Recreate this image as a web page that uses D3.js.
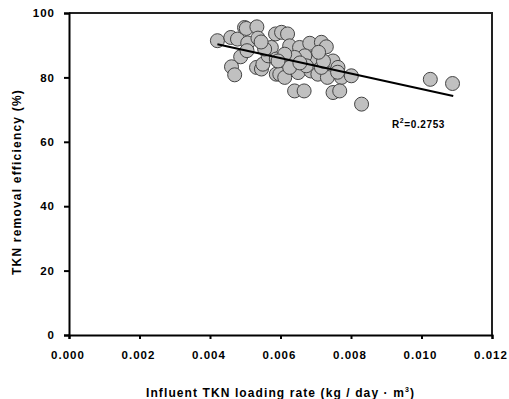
<!DOCTYPE html>
<html>
<head>
<meta charset="utf-8">
<script src="https://cdn.jsdelivr.net/npm/d3@7"></script>
<style>
  body { margin: 0; background: #fff; }
  svg text { font-family: "Liberation Sans", Arial, sans-serif; font-weight: bold; fill: #000; }
</style>
</head>
<body>
<svg id="chart" width="509" height="399"></svg>
<script>
'use strict';

// influent TKN loading rate (kg/day·m3)
var loadRate = [
  0.00421, 0.00459, 0.00478, 0.00498, 0.00503, 0.00533, 0.00507, 0.00536, 0.00487, 0.00505,
  0.00461, 0.00470, 0.00532, 0.00546, 0.00550, 0.00565, 0.00574, 0.00586, 0.00588, 0.00588,
  0.00603, 0.00620, 0.00626, 0.00654, 0.00683, 0.00716, 0.00730, 0.00697, 0.00669, 0.00640,
  0.00612, 0.00598, 0.00612, 0.00650, 0.00686, 0.00706, 0.00733, 0.00749, 0.00763, 0.00773,
  0.00640, 0.00667, 0.00749, 0.00768, 0.00626, 0.00673, 0.00716, 0.00593, 0.00801, 0.00830,
  0.01025, 0.01088, 0.00762, 0.00555, 0.00722, 0.00655, 0.00545, 0.00708
];
// TKN removal efficiency (%)
var removalEff = [
  91.4, 92.4, 91.9, 95.5, 95.2, 95.7, 90.7, 92.2, 86.4, 88.3,
  83.3, 80.8, 83.1, 82.6, 84.1, 86.7, 89.3, 93.5, 85.7, 81.0,
  94.0, 93.5, 89.8, 89.3, 90.6, 90.9, 89.5, 86.2, 86.7, 86.2,
  87.2, 81.0, 80.0, 81.5, 82.0, 81.0, 80.0, 85.1, 83.1, 80.0,
  75.8, 75.8, 75.3, 75.8, 83.1, 83.6, 83.1, 85.1, 80.5, 71.7,
  79.4, 78.1, 81.6, 88.8, 85.0, 84.5, 91.0, 87.8
];

// fitted line
var fitX = [0.00421, 0.01090];
var fitY = [90.3, 74.2];

var xTicks = [0, 0.002, 0.004, 0.006, 0.008, 0.010, 0.012];
var yTicks = [0, 20, 40, 60, 80, 100];

var svg = d3.select('#chart');
var mLeft = 69, mRight = 492, mTop = 13, mBottom = 335;

var x = d3.scaleLinear().domain([0, 0.012]).range([mLeft, mRight]);
var y = d3.scaleLinear().domain([0, 100]).range([mBottom, mTop]);

// frame (top and right)
svg.append('path')
  .attr('d', 'M' + mLeft + ',' + mTop + 'H' + mRight + 'V' + mBottom)
  .attr('fill', 'none').attr('stroke', '#222').attr('stroke-width', 2);

var xAxis = svg.append('g')
  .attr('transform', 'translate(0,' + mBottom + ')')
  .call(d3.axisBottom(x).tickValues(xTicks).tickFormat(d3.format('.3f')).tickSize(4).tickPadding(12));

var yAxis = svg.append('g')
  .attr('transform', 'translate(' + mLeft + ',0)')
  .call(d3.axisLeft(y).tickValues(yTicks).tickSize(5).tickPadding(9));

[xAxis, yAxis].forEach(function (g) {
  g.select('.domain').attr('stroke', '#000').attr('stroke-width', 2);
  g.selectAll('.tick line').attr('stroke', '#000').attr('stroke-width', 2);
  g.selectAll('.tick text')
    .attr('fill', '#000')
    .style('font-size', '11.5px')
    .style('font-weight', 'bold')
    .style('letter-spacing', '1px')
    .style('font-family', '"Liberation Sans", Arial, sans-serif');
});
xAxis.selectAll('.tick text').attr('dx', '-1.5px');

var pts = loadRate.map(function (v, i) { return { x: v, y: removalEff[i] }; });

svg.append('g').selectAll('circle').data(pts).enter().append('circle')
  .attr('cx', function (d) { return x(d.x); })
  .attr('cy', function (d) { return y(d.y); })
  .attr('r', 7)
  .attr('fill', '#c0c0c0')
  .attr('stroke', '#444')
  .attr('stroke-width', 1);

svg.append('line')
  .attr('x1', x(fitX[0])).attr('y1', y(fitY[0]))
  .attr('x2', x(fitX[1])).attr('y2', y(fitY[1]))
  .attr('stroke', '#000').attr('stroke-width', 2);

var r2 = svg.append('text')
  .attr('x', 392).attr('y', 128)
  .style('font-size', '10px').style('letter-spacing', '0.6px');
r2.append('tspan').text('R');
r2.append('tspan').attr('dy', -5).style('font-size', '7px').text('2');
r2.append('tspan').attr('dy', 5).text('=0.2753');

svg.append('text')
  .attr('transform', 'translate(21,' + ((mTop + mBottom) / 2 + 8) + ') rotate(-90)')
  .attr('text-anchor', 'middle')
  .style('font-size', '12px').style('letter-spacing', '1.2px')
  .text('TKN removal efficiency (%)');

var xl = svg.append('text')
  .attr('x', (mLeft + mRight) / 2).attr('y', 397)
  .attr('text-anchor', 'middle')
  .style('font-size', '12px').style('letter-spacing', '1.1px');
xl.append('tspan').text('Influent TKN loading rate (kg / day  \u00b7  m');
xl.append('tspan').attr('dy', -5).style('font-size', '7px').text('3');
xl.append('tspan').attr('dy', 5).text(')');
</script>
</body>
</html>
